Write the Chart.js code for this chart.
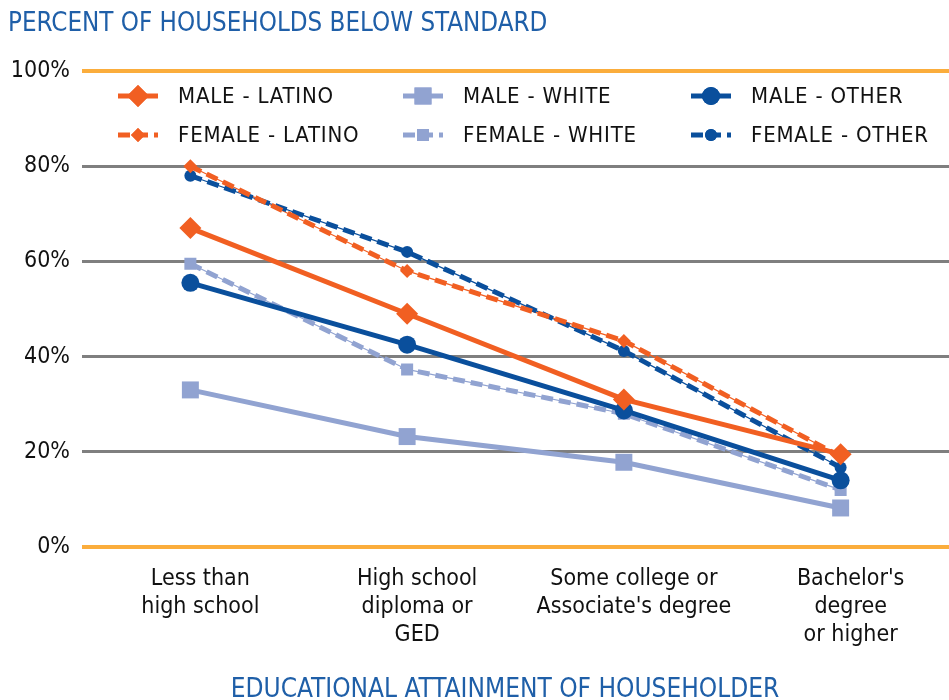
<!DOCTYPE html>
<html>
<head>
<meta charset="utf-8">
<script src="https://cdn.jsdelivr.net/npm/chart.js@4.4.1/dist/chart.umd.min.js"></script>
<style>
  html, body { margin: 0; padding: 0; background: #fff; overflow: hidden; }
  canvas { display: block; }
</style>
</head>
<body>
<canvas id="grafico" width="949" height="700"></canvas>
<script>
// dados
const categorias = [
    ['Less than', 'high school'],
    ['High school', 'diploma or', 'GED'],
    ['Some college or', "Associate's degree"],
    ["Bachelor's", 'degree', 'or higher']
];
const homemLatino = [67, 49, 31, 19.5];
const mulherLatina = [80, 58, 43.3, 19];
const homemBranco = [33, 23.2, 17.8, 8.2];
const mulherBranca = [59.5, 37.3, 28, 12];
const homemOutro = [55.5, 42.5, 28.7, 14];
const mulherOutra = [78, 62, 41.2, 16.7];
const ticksY = [0, 20, 40, 60, 80, 100];

const tituloY = 'PERCENT OF HOUSEHOLDS BELOW STANDARD';
const tituloX = 'EDUCATIONAL ATTAINMENT OF HOUSEHOLDER';

const LARANJA = '#F15F22';
const CINZA_AZUL = '#91A3D1';
const AZUL = '#0A4F9C';
const AZUL_TITULO = '#1F5FA8';
const FONTE_TAHOMA = "'DejaVu Sans Condensed', 'DejaVu Sans', sans-serif";
const FONTE_ESTREITA = "'Liberation Sans Narrow', 'DejaVu Sans Condensed', sans-serif";

function serie(label, data, cor, tracejado, estilo, raio) {
    return {
        label,
        data,
        borderColor: cor,
        backgroundColor: cor,
        borderWidth: 5,
        borderDash: tracejado ? [12, 6] : [],
        pointStyle: estilo,
        pointRadius: raio,
        pointHoverRadius: raio,
        pointBorderWidth: 0,
        tension: 0,
        fill: false
    };
}

// linha fina sob as séries tracejadas (efeito do Excel)
function linhaFina(data, cor) {
    return {
        label: '',
        data,
        borderColor: cor,
        borderWidth: 1.2,
        pointRadius: 0,
        fill: false,
        semLegenda: true
    };
}

const series = [
    serie('MALE - LATINO', homemLatino, LARANJA, false, 'rectRot', 11),
    serie('MALE - WHITE', homemBranco, CINZA_AZUL, false, 'rect', 12),
    serie('MALE - OTHER', homemOutro, AZUL, false, 'circle', 9),
    serie('FEMALE - LATINO', mulherLatina, LARANJA, true, 'rectRot', 7),
    serie('FEMALE - WHITE', mulherBranca, CINZA_AZUL, true, 'rect', 8.5),
    serie('FEMALE - OTHER', mulherOutra, AZUL, true, 'circle', 6),
    linhaFina(mulherLatina, LARANJA),
    linhaFina(mulherBranca, CINZA_AZUL),
    linhaFina(mulherOutra, AZUL)
];

const pluginTextos = {
    id: 'textos',
    afterDraw(chart) {
        const ctx = chart.ctx;
        ctx.save();
        ctx.fillStyle = AZUL_TITULO;
        ctx.font = `25.7px ${FONTE_ESTREITA}`;
        ctx.textAlign = 'left';
        ctx.textBaseline = 'alphabetic';
        ctx.fillText(tituloY, 8, 31);
        ctx.font = `26px ${FONTE_ESTREITA}`;
        ctx.textAlign = 'center';
        ctx.fillText(tituloX, 505, 697);

        // legenda em 3 colunas x 2 linhas
        const colunas = [118, 403, 691];
        const linhas = [96, 135];
        ctx.font = `22px ${FONTE_ESTREITA}`;
        ctx.letterSpacing = '0.8px';
        ctx.textAlign = 'left';
        ctx.textBaseline = 'middle';
        series.filter(s => !s.semLegenda).forEach((s, i) => {
            const x = colunas[i % 3];
            const y = linhas[Math.floor(i / 3)];
            ctx.strokeStyle = s.borderColor;
            ctx.lineWidth = s.borderWidth;
            ctx.setLineDash(s.borderDash);
            ctx.beginPath();
            ctx.moveTo(x, y);
            ctx.lineTo(x + 40, y);
            ctx.stroke();
            ctx.setLineDash([]);
            ctx.fillStyle = s.backgroundColor;
            Chart.helpers.drawPoint(ctx, { pointStyle: s.pointStyle, radius: s.pointRadius, borderWidth: 0 }, x + 20, y);
            ctx.fill();
            ctx.fillStyle = '#111';
            ctx.fillText(s.label, x + 60, y + 1);
        });
        ctx.restore();
    }
};

new Chart(document.getElementById('grafico'), {
    type: 'line',
    data: { labels: categorias, datasets: series },
    options: {
        responsive: false,
        animation: false,
        layout: { autoPadding: false, padding: { top: 71, right: 0, left: 0, bottom: 0 } },
        plugins: {
            legend: { display: false },
            tooltip: { enabled: false }
        },
        scales: {
            x: {
                offset: true,
                grid: { display: false },
                border: { display: false },
                afterFit: escala => {
                    escala.height = 153;
                    escala.paddingLeft = 0;
                    escala.paddingRight = 0;
                },
                ticks: {
                    color: '#111',
                    padding: 10,
                    labelOffset: 10,
                    maxRotation: 0,
                    autoSkip: false,
                    font: { family: FONTE_TAHOMA, size: 23, lineHeight: 1.22 }
                }
            },
            y: {
                min: 0,
                max: 100,
                afterFit: escala => { escala.width = 82; },
                afterBuildTicks: escala => { escala.ticks = ticksY.map(v => ({ value: v })); },
                border: { display: false },
                grid: {
                    drawTicks: false,
                    color: c => (c.tick.value === 0 || c.tick.value === 100) ? '#FBAD3C' : '#7F7F7F',
                    lineWidth: c => (c.tick.value === 0 || c.tick.value === 100) ? 4 : 3
                },
                ticks: {
                    color: '#111',
                    padding: 12,
                    font: { family: FONTE_TAHOMA, size: 23 },
                    callback: v => v + '%'
                }
            }
        }
    },
    plugins: [pluginTextos]
});
</script>
</body>
</html>
